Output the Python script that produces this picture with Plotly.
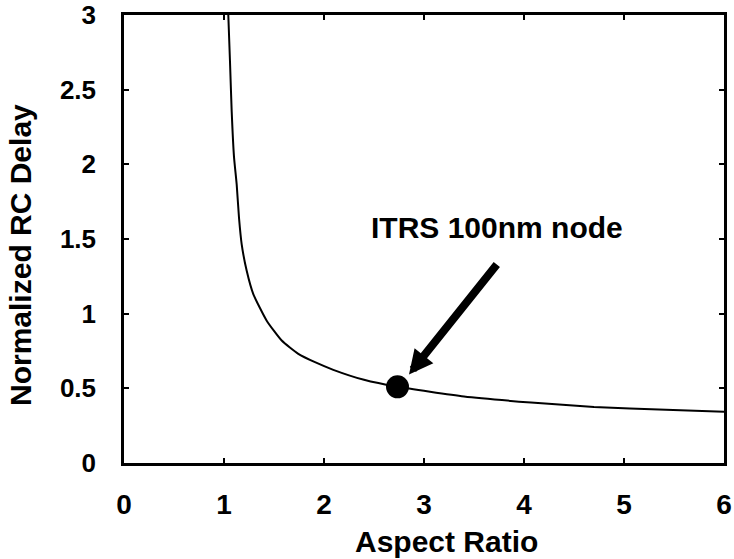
import plotly.graph_objects as go

# Curve: normalized RC delay vs aspect ratio
aspect_ratio = [1.043, 1.06, 1.077, 1.10, 1.127, 1.15, 1.177, 1.227, 1.293, 1.427,
                1.577, 1.743, 1.91, 2.093, 2.40, 2.735, 3.40, 4.07, 4.70, 5.42, 6.0]
rc_delay = [3.0, 2.687, 2.353, 2.05, 1.864, 1.642, 1.464, 1.287, 1.131, 0.953,
            0.82, 0.731, 0.675, 0.624, 0.557, 0.51, 0.445, 0.405, 0.375, 0.357, 0.344]

# Highlighted point
node_x = [2.735]
node_y = [0.51]
node_label = "ITRS 100nm node"

x_ticks = [0, 1, 2, 3, 4, 5, 6]
y_ticks = [0, 0.5, 1, 1.5, 2, 2.5, 3]
y_tick_text = ["0", "0.5", "1", "1.5", "2", "2.5", "3"]

x_title = "Aspect Ratio"
y_title = "Normalized RC Delay"

FONT = "Arial, Liberation Sans, sans-serif"

fig = go.Figure()
fig.add_trace(go.Scatter(x=aspect_ratio, y=rc_delay, mode="lines",
                         line=dict(color="black", width=2, shape="spline", smoothing=0.5),
                         showlegend=False, hoverinfo="skip", cliponaxis=True))
fig.add_trace(go.Scatter(x=node_x, y=node_y, mode="markers",
                         marker=dict(color="black", size=23), showlegend=False))

# label and arrow
fig.add_annotation(x=3.73, y=1.58, xref="x", yref="y", text="<b>" + node_label + "</b>",
                   showarrow=False, font=dict(family=FONT, size=30, color="black"))
fig.add_annotation(x=2.85, y=0.593, ax=3.74, ay=1.34, xref="x", yref="y",
                   axref="x", ayref="y", text="", showarrow=True,
                   arrowhead=2, arrowsize=0.6, arrowwidth=8, arrowcolor="black")

# axis titles
fig.add_annotation(x=(446 - 124) / 600, y=-(541 - 463) / 448,
                   xref="paper", yref="paper", text="<b>" + x_title + "</b>",
                   xanchor="center", yanchor="middle",
                   showarrow=False, font=dict(family=FONT, size=30, color="black"))
fig.add_annotation(x=(20 - 124) / 600, y=(463 - 255) / 448,
                   xref="paper", yref="paper", text="<b>" + y_title + "</b>",
                   textangle=-90, showarrow=False, xanchor="center", yanchor="middle",
                   font=dict(family=FONT, size=30, color="black"))

fig.update_layout(
    width=734, height=559,
    margin=dict(l=124, r=10, t=15, b=96),
    paper_bgcolor="white", plot_bgcolor="white",
    font=dict(family=FONT, size=28, color="black"),
)

fig.update_xaxes(range=[0, 6], tickvals=x_ticks, ticks="inside", ticklen=5,
                 tickwidth=1.5, tickcolor="black", showline=True, linecolor="black",
                 linewidth=2.5, mirror="ticks", showgrid=False, zeroline=False,
                 tickfont=dict(family=FONT, size=28, color="black", weight="bold"),
                 ticklabelstandoff=15, ticklabeloverflow="allow", automargin=False)
fig.update_yaxes(range=[0, 3.0001], tickvals=y_ticks, ticktext=y_tick_text, ticks="inside",
                 ticklen=5, tickwidth=1.5, tickcolor="black", showline=True,
                 linecolor="black", linewidth=2.5, mirror="ticks", showgrid=False,
                 zeroline=False,
                 tickfont=dict(family=FONT, size=26, color="black", weight="bold"),
                 ticklabelstandoff=20, ticklabeloverflow="allow", automargin=False)

fig.write_html("out.html")
